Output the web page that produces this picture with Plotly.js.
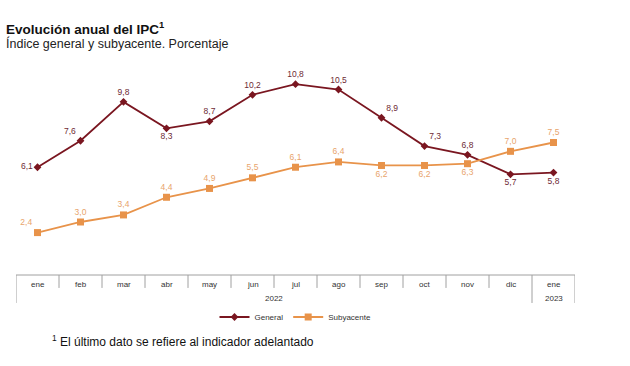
<!DOCTYPE html>
<html><head><meta charset="utf-8">
<script src="https://cdn.plot.ly/plotly-3.0.1.min.js"></script>
<style>html,body{margin:0;padding:0;background:#fff}#c{width:630px;height:366px}</style>
</head><body><div id="c"></div>
<script>
const months = ["ene","feb","mar","abr","may","jun","jul","ago","sep","oct","nov","dic","ene"];
const cats = ["ene-22","feb-22","mar-22","abr-22","may-22","jun-22","jul-22","ago-22","sep-22","oct-22","nov-22","dic-22","ene-23"];
const general = [6.1,7.6,9.8,8.3,8.7,10.2,10.8,10.5,8.9,7.3,6.8,5.7,5.8];
const subyacente = [2.4,3.0,3.4,4.4,4.9,5.5,6.1,6.4,6.2,6.2,6.3,7.0,7.5];
const genPos = ["middle left","top left","top center","bottom center","top center","top center","top center","top center","top right","top right","top center","bottom center","bottom center"];
const subPos = ["top left","top center","top center","top center","top center","top center","top center","top center","bottom center","bottom center","bottom center","top center","top center"];
const years = ["2022","2023"];

const fmt = v => v.toFixed(1).replace('.', ',');
const cRed = '#7a1620', cOr = '#e8934a';
const font = 'Liberation Sans, Arial, sans-serif';

const traces = [
  {x: cats, y: general, name: 'General', type: 'scatter', mode: 'lines+markers+text',
   line: {color: cRed, width: 1.8}, marker: {symbol: 'diamond', size: 6, color: cRed},
   text: general.map(fmt), textposition: genPos, textfont: {size: 8.5, color: '#6e2a34', family: font},
   cliponaxis: false},
  {x: cats, y: subyacente, name: 'Subyacente', type: 'scatter', mode: 'lines+markers+text',
   line: {color: cOr, width: 1.8}, marker: {symbol: 'square', size: 7, color: cOr},
   text: subyacente.map(fmt), textposition: subPos, textfont: {size: 8.5, color: '#e8a46c', family: font},
   cliponaxis: false}
];

const shapes = [];
const lc = '#a0a0a0';
shapes.push({type:'line', xref:'x', yref:'paper', x0:-0.5, x1:cats.length-0.5, y0:0, y1:0, line:{color:lc, width:1}});
for (let i = 0; i <= cats.length; i++) {
  const long = (i === 0 || i === cats.length - 1 || i === cats.length);
  shapes.push({type:'line', xref:'x', yref:'paper', x0:i-0.5, x1:i-0.5, y0:0, y1: long ? -0.132 : -0.061, line:{color:lc, width:1}});
}

const annotations = months.map((m, i) => ({
  x: cats[i], xref: 'x', y: -0.047, yref: 'paper', text: m, showarrow: false,
  font: {size: 8, color: '#333', family: font}, xanchor: 'center', yanchor: 'middle'
}));
annotations.push({x: 5.5, xref:'x', y:-0.113, yref:'paper', text: years[0], showarrow:false,
  font:{size:8, color:'#333', family:font}, xanchor:'center', yanchor:'middle'});
annotations.push({x: 12, xref:'x', y:-0.113, yref:'paper', text: years[1], showarrow:false,
  font:{size:8, color:'#333', family:font}, xanchor:'center', yanchor:'middle'});
annotations.push({xref:'paper', yref:'paper', x: -12/559, y: (275-28)/212, xanchor:'left', yanchor:'middle',
  text:'<b>Evolución anual del IPC<sup>1</sup></b>', showarrow:false, font:{size:13.5, color:'#111', family:font}});
annotations.push({xref:'paper', yref:'paper', x: -12/559, y: (275-43.5)/212, xanchor:'left', yanchor:'middle',
  text:'Índice general y subyacente. Porcentaje', showarrow:false, font:{size:12.5, color:'#222', family:font}});
annotations.push({xref:'paper', yref:'paper', x: 34/559, y: -(341-275)/212, xanchor:'left', yanchor:'middle',
  text:'<sup>1</sup> El último dato se refiere al indicador adelantado', showarrow:false, font:{size:12, color:'#111', family:font}});

const layout = {
  width: 630, height: 366,
  margin: {l: 16, r: 55, t: 63, b: 91},
  paper_bgcolor: '#fff', plot_bgcolor: '#fff',
  showlegend: true,
  legend: {orientation:'h', x:0.5, xanchor:'center', y:-(317-275)/212, yanchor:'middle',
    font:{size:8, color:'#333', family:font}, itemwidth:30, tracegroupgap:0},
  xaxis: {type:'category', categoryorder:'array', categoryarray:cats, range:[-0.5, cats.length-0.5],
    showticklabels:false, showgrid:false, zeroline:false, showline:false, ticks:''},
  yaxis: {range:[0,12], showticklabels:false, showgrid:false, zeroline:false, showline:false, ticks:''},
  shapes: shapes, annotations: annotations
};
Plotly.newPlot('c', traces, layout, {displayModeBar:false, staticPlot:true});
</script></body></html>
